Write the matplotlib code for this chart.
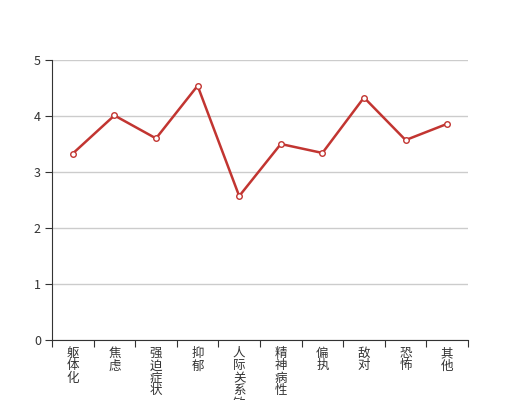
import matplotlib.pyplot as plt
import numpy as np

plt.rcParams['font.family'] = ['Noto Sans CJK SC', 'DejaVu Sans']

categories = ['躯体化', '焦虑', '强迫症状', '抑郁', '人际关系敏感', '精神病性',
              '偏执', '敌对', '恐怖', '其他']
scores = [3.33, 4.01, 3.60, 4.54, 2.57, 3.50, 3.34, 4.33, 3.57, 3.86]
y_ticks = [0, 1, 2, 3, 4, 5]

fig = plt.figure(figsize=(5.2, 4.0), dpi=100)
ax = fig.add_axes([52 / 520, 60 / 400, 416 / 520, 280 / 400])

x = np.arange(len(categories))
ax.plot(x, scores, color='#c23531', linewidth=1.8, marker='o', markersize=4,
        markerfacecolor='white', markeredgecolor='#c23531', markeredgewidth=1,
        zorder=3, clip_on=False)

ax.set_xlim(-0.5, len(categories) - 0.5)
ax.set_ylim(0, 5)
ax.set_yticks(y_ticks)
ax.grid(axis='y', color='#cccccc', linewidth=1)
ax.set_axisbelow(True)

# category ticks sit on band edges, labels centred in the bands
ax.set_xticks(np.arange(len(categories) + 1) - 0.5)
ax.set_xticklabels([])
ax.set_xticks(x, minor=True)
ax.set_xticklabels(['\n'.join(c) for c in categories], minor=True,
                   fontsize=9, color='#333333', va='top', linespacing=0.95)
ax.tick_params(axis='x', which='minor', length=0, pad=5)
ax.tick_params(axis='x', which='major', length=5, color='#333333', direction='out')
ax.tick_params(axis='y', length=5, color='#333333', labelsize=9,
               labelcolor='#333333', pad=3)

for s in ['top', 'right']:
    ax.spines[s].set_visible(False)
for s in ['left', 'bottom']:
    ax.spines[s].set_color('#333333')

fig.savefig('out.png', dpi=100)
